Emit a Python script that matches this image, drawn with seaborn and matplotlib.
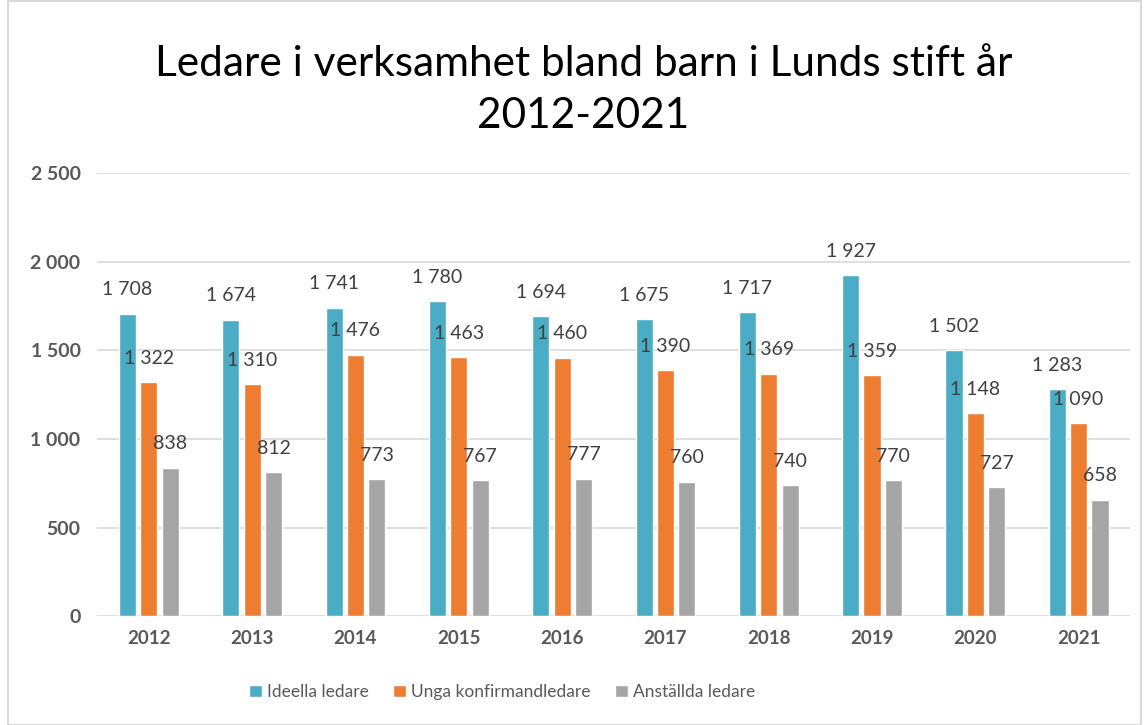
import matplotlib
matplotlib.use("Agg")
import matplotlib.pyplot as plt
import seaborn as sns
import pandas as pd
from matplotlib.patches import Rectangle

years = ["2012", "2013", "2014", "2015", "2016", "2017", "2018", "2019", "2020", "2021"]
ideella = [1708, 1674, 1741, 1780, 1694, 1675, 1717, 1927, 1502, 1283]
unga = [1322, 1310, 1476, 1463, 1460, 1390, 1369, 1359, 1148, 1090]
anstallda = [838, 812, 773, 767, 777, 760, 740, 770, 727, 658]
series_names = ["Ideella ledare", "Unga konfirmandledare", "Anställda ledare"]
colors = ["#4BACC6", "#ED7D31", "#A5A5A5"]
yticks = [0, 500, 1000, 1500, 2000, 2500]

df = pd.DataFrame({
    "År": years * 3,
    "Serie": [series_names[0]] * 10 + [series_names[1]] * 10 + [series_names[2]] * 10,
    "Värde": ideella + unga + anstallda,
})

sns.set_theme(style="white")
plt.rcParams["font.family"] = ["Lato", "DejaVu Sans"]

fig = plt.figure(figsize=(11.44, 7.25), dpi=100)
ax = fig.add_axes([0.085, 0.150, 0.903, 0.611])

sns.barplot(data=df, x="År", y="Värde", hue="Serie", palette=colors,
            width=0.62, gap=0.2, ax=ax, legend=True, saturation=1)

def fmt(v):
    return f"{v:,}".replace(",", " ")

for cont in ax.containers:
    for rect in cont:
        h = rect.get_height()
        ax.annotate(fmt(int(round(h))), (rect.get_x() + rect.get_width() / 2, h),
                    xytext=(0, 11), textcoords="offset points",
                    ha="center", va="bottom", fontsize=14, color="#404040")

ax.set_ylim(0, 2500)
ax.set_yticks(yticks)
ax.set_yticklabels([fmt(v) for v in yticks], fontsize=14, fontweight="bold", color="#595959")
for lbl in ax.get_xticklabels():
    lbl.set_fontsize(13.5)
    lbl.set_fontweight("bold")
    lbl.set_color("#595959")
ax.tick_params(axis="both", length=0, pad=12)
ax.tick_params(axis="x", pad=10)
ax.yaxis.grid(True, color="#D9D9D9", linewidth=1.2)
ax.set_axisbelow(True)
for s in ax.spines.values():
    s.set_visible(False)
ax.set_xlabel("")
ax.set_ylabel("")
ax.set_xlim(-0.5, 9.5)

ax.legend(loc="upper center", bbox_to_anchor=(0.392, -0.118), ncol=3, frameon=False,
          fontsize=12.5, handlelength=0.75, handleheight=0.75, handletextpad=0.3,
          columnspacing=1.4, labelcolor="#595959")

fig.text(0.51, 0.938, "Ledare i verksamhet bland barn i Lunds stift år\n2012-2021",
         ha="center", va="top", fontsize=30.5, color="#000000", linespacing=1.45)

fig.patches.append(Rectangle((0.007, 0.0), 0.99, 0.999, transform=fig.transFigure,
                             fill=False, edgecolor="#D9D9D9", linewidth=1.5))

fig.savefig("out.png", dpi=100)
